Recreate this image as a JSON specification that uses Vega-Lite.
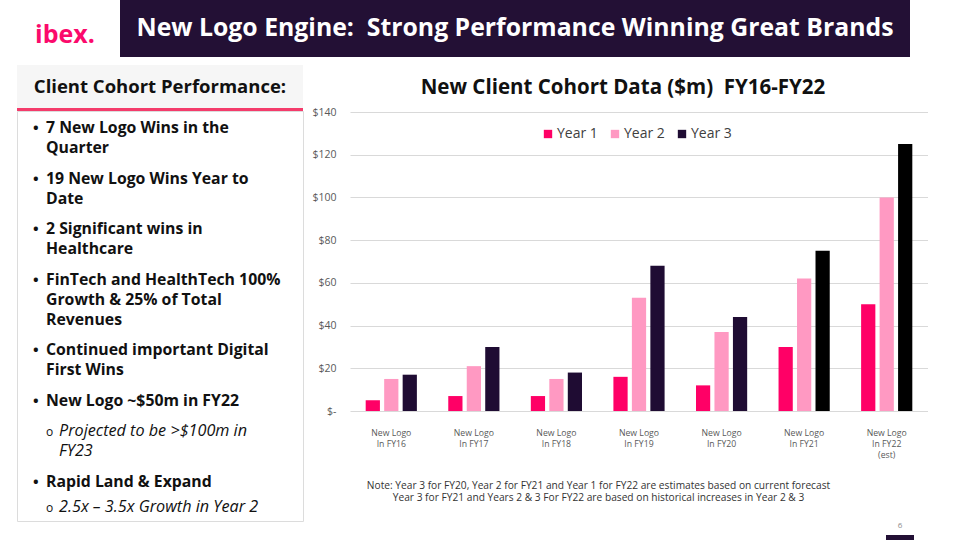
{
  "$schema": "https://vega.github.io/schema/vega-lite/v6.json",
  "padding": 0,
  "background": "white",
  "spacing": 0,
  "config": {
    "view": {"stroke": null},
    "font": "Open Sans"
  },
  "vconcat": [
    {
      "hconcat": [
        {
          "width": 120, "height": 57,
          "data": {"values": [{"t": "ibex."}]},
          "mark": {"type": "text", "font": "Open Sans", "fontWeight": "bold", "fontSize": 25, "color": "#fb0a6c", "dx": 5, "dy": 6, "baseline": "middle", "align": "center"},
          "encoding": {"text": {"field": "t"}}
        },
        {
          "width": 790, "height": 57,
          "view": {"fill": "#231035", "stroke": null},
          "data": {"values": [{"t": "New Logo Engine:\u00a0 Strong Performance Winning Great Brands"}]},
          "mark": {"type": "text", "font": "Open Sans", "fontWeight": "bold", "fontSize": 24.8, "color": "white", "baseline": "middle", "align": "center"},
          "encoding": {"text": {"field": "t"}}
        }
      ],
      "spacing": 0,
      "bounds": "flush"
    },
    {
      "width": 1, "height": 8,
      "data": {"values": []},
      "mark": "text",
      "encoding": {}
    },
    {
      "hconcat": [
        {
          "width": 16, "height": 1,
          "data": {"values": []},
          "mark": "text",
          "encoding": {}
        },
        {
          "vconcat": [
            {
              "width": 286, "height": 43,
              "view": {"fill": "#f6f6f6", "stroke": null},
              "data": {"values": [{"t": "Client Cohort Performance:"}]},
              "mark": {"type": "text", "font": "Open Sans", "fontWeight": "bold", "fontSize": 18.5, "color": "#111111", "baseline": "middle", "align": "center"},
              "encoding": {"text": {"field": "t"}}
            },
            {
              "width": 286, "height": 3,
              "view": {"fill": "#f43b6b", "stroke": null},
              "data": {"values": []},
              "mark": "text",
              "encoding": {}
            },
            {
              "width": 286, "height": 410,
              "view": {"fill": "white", "stroke": "#dcdcdc"},
              "data": {"values": [
                {"row": 0, "level": 1, "text": "7 New Logo Wins in the\nQuarter"},
                {"row": 5, "level": 1, "text": "19 New Logo Wins Year to\nDate"},
                {"row": 10, "level": 1, "text": "2 Significant wins in\nHealthcare"},
                {"row": 15, "level": 1, "text": "FinTech and HealthTech 100%\nGrowth & 25% of Total\nRevenues"},
                {"row": 22, "level": 1, "text": "Continued important Digital\nFirst Wins"},
                {"row": 27, "level": 1, "text": "New Logo ~$50m in FY22"},
                {"row": 30, "level": 2, "text": "Projected to be >$100m in\nFY23"},
                {"row": 35, "level": 1, "text": "Rapid Land & Expand"},
                {"row": 37.5, "level": 2, "text": "2.5x – 3.5x Growth in Year 2"}
              ]},
              "encoding": {
                "x": {"field": "level", "type": "quantitative", "scale": {"domain": [1, 2], "range": [29, 42]}, "axis": null},
                "y": {"field": "row", "type": "quantitative", "scale": {"domain": [0, 37.5], "range": [22, 401]}, "axis": null}
              },
              "layer": [
                {
                  "transform": [{"filter": "datum.level == 1"}],
                  "mark": {"type": "text", "font": "Open Sans", "fontWeight": "bold", "fontSize": 15.8, "color": "#111111", "align": "left", "baseline": "alphabetic", "lineBreak": "\n", "lineHeight": 20},
                  "encoding": {"text": {"field": "text"}}
                },
                {
                  "transform": [{"filter": "datum.level == 2"}],
                  "mark": {"type": "text", "font": "Open Sans", "fontStyle": "italic", "fontWeight": "normal", "fontSize": 16.2, "color": "#111111", "align": "left", "baseline": "alphabetic", "lineBreak": "\n", "lineHeight": 20},
                  "encoding": {"text": {"field": "text"}}
                },
                {
                  "transform": [{"filter": "datum.level == 1"}],
                  "mark": {"type": "text", "font": "Open Sans", "fontWeight": "bold", "fontSize": 15, "color": "#111111", "align": "left", "baseline": "alphabetic", "dx": -13},
                  "encoding": {"text": {"value": "•"}}
                },
                {
                  "transform": [{"filter": "datum.level == 2"}],
                  "mark": {"type": "text", "font": "Open Sans", "fontSize": 12, "color": "#111111", "align": "left", "baseline": "alphabetic", "dx": -13},
                  "encoding": {"text": {"value": "o"}}
                }
              ]
            }
          ],
          "spacing": 0,
          "bounds": "flush"
        },
        {
          "width": 7, "height": 1,
          "data": {"values": []},
          "mark": "text",
          "encoding": {}
        },
        {
          "vconcat": [
            {
              "width": 578, "height": 47,
              "data": {"values": []},
              "mark": "text",
              "encoding": {}
            },
            {
              "width": 578, "height": 299,
              "title": {"text": "New Client Cohort Data ($m)\u00a0 FY16-FY22", "font": "Open Sans", "fontWeight": "bold", "fontSize": 20.5, "color": "#111111", "anchor": "middle", "dx": -16, "offset": 9},
              "data": {"values": [
                {"cohort": "New Logo In FY16", "series": "Year 1", "value": 5},
                {"cohort": "New Logo In FY16", "series": "Year 2", "value": 15},
                {"cohort": "New Logo In FY16", "series": "Year 3", "value": 17},
                {"cohort": "New Logo In FY17", "series": "Year 1", "value": 7},
                {"cohort": "New Logo In FY17", "series": "Year 2", "value": 21},
                {"cohort": "New Logo In FY17", "series": "Year 3", "value": 30},
                {"cohort": "New Logo In FY18", "series": "Year 1", "value": 7},
                {"cohort": "New Logo In FY18", "series": "Year 2", "value": 15},
                {"cohort": "New Logo In FY18", "series": "Year 3", "value": 18},
                {"cohort": "New Logo In FY19", "series": "Year 1", "value": 16},
                {"cohort": "New Logo In FY19", "series": "Year 2", "value": 53},
                {"cohort": "New Logo In FY19", "series": "Year 3", "value": 68},
                {"cohort": "New Logo In FY20", "series": "Year 1", "value": 12},
                {"cohort": "New Logo In FY20", "series": "Year 2", "value": 37},
                {"cohort": "New Logo In FY20", "series": "Year 3", "value": 44},
                {"cohort": "New Logo In FY21", "series": "Year 1", "value": 30},
                {"cohort": "New Logo In FY21", "series": "Year 2", "value": 62},
                {"cohort": "New Logo In FY21", "series": "Year 3", "value": 75},
                {"cohort": "New Logo In FY22 (est)", "series": "Year 1", "value": 50},
                {"cohort": "New Logo In FY22 (est)", "series": "Year 2", "value": 100},
                {"cohort": "New Logo In FY22 (est)", "series": "Year 3", "value": 125}
              ]},
              "mark": {"type": "bar"},
              "encoding": {
                "x": {
                  "field": "cohort", "type": "nominal", "sort": null,
                  "scale": {"paddingInner": 0.38, "paddingOuter": 0.19},
                  "axis": {
                    "labelExpr": "split(replace(replace(datum.label, ' In ', '|In '), ' (', '|('), '|')",
                    "labelAngle": 0, "labelAlign": "center", "labelBaseline": "middle",
                    "labelFont": "Open Sans", "labelFontSize": 8.7, "labelColor": "#595959", "labelLineHeight": 11.2,
                    "labelPadding": 21, "ticks": false, "tickSize": 0, "domain": false,
                    "title": ["Note: Year 3 for FY20, Year 2 for FY21 and Year 1 for FY22 are estimates based on current forecast", "Year 3 for FY21 and Years 2 & 3 For FY22 are based on historical increases in Year 2 & 3"],
                    "titleFont": "Open Sans", "titleFontSize": 10.2, "titleFontWeight": "normal", "titleColor": "#333333",
                    "titleX": 248, "titleY": 77, "titleBaseline": "alphabetic", "titleLineHeight": 12.6, "titleAnchor": "middle", "titleAlign": "center"
                  }
                },
                "xOffset": {"field": "series", "type": "nominal", "scale": {"paddingInner": 0.23, "paddingOuter": 0}},
                "y": {
                  "field": "value", "type": "quantitative",
                  "scale": {"domain": [0, 140]},
                  "axis": {
                    "values": [0, 20, 40, 60, 80, 100, 120, 140],
                    "labelExpr": "datum.value == 0 ? '$-' : '$' + datum.value",
                    "labelFont": "Open Sans", "labelFontSize": 10.5, "labelColor": "#595959", "labelPadding": 14,
                    "grid": true, "gridColor": "#d9d9d9", "gridWidth": 1,
                    "domain": false, "ticks": false, "tickSize": 0, "title": null
                  }
                },
                "color": {
                  "condition": {"test": "datum.series == 'Year 3' && (indexof(datum.cohort, 'FY21') >= 0 || indexof(datum.cohort, 'FY22') >= 0)", "value": "#000000"},
                  "field": "series", "type": "nominal",
                  "scale": {"domain": ["Year 1", "Year 2", "Year 3"], "range": ["#ff0066", "#ff99c2", "#1f0c33"]},
                  "legend": {
                    "title": null, "orient": "none", "direction": "horizontal", "legendX": 541, "legendY": 127,
                    "symbolType": "square", "symbolSize": 70, "symbolStrokeWidth": 0,
                    "labelFont": "Open Sans", "labelFontSize": 14, "labelColor": "#404040", "labelOffset": 2, "columnPadding": 10
                  }
                }
              }
            }
          ],
          "spacing": 0,
          "bounds": "flush"
        }
      ],
      "spacing": 0
    },
    {
      "hconcat": [
        {
          "width": 886, "height": 1,
          "data": {"values": []},
          "mark": "text",
          "encoding": {}
        },
        {
          "width": 28, "height": 5,
          "view": {"fill": "#231035", "stroke": null},
          "title": {"text": "6", "font": "Open Sans", "fontSize": 8, "fontWeight": "normal", "color": "#8c8c8c", "anchor": "middle", "offset": 5},
          "data": {"values": []},
          "mark": "text",
          "encoding": {}
        }
      ],
      "spacing": 0,
      "bounds": "flush"
    }
  ]
}
